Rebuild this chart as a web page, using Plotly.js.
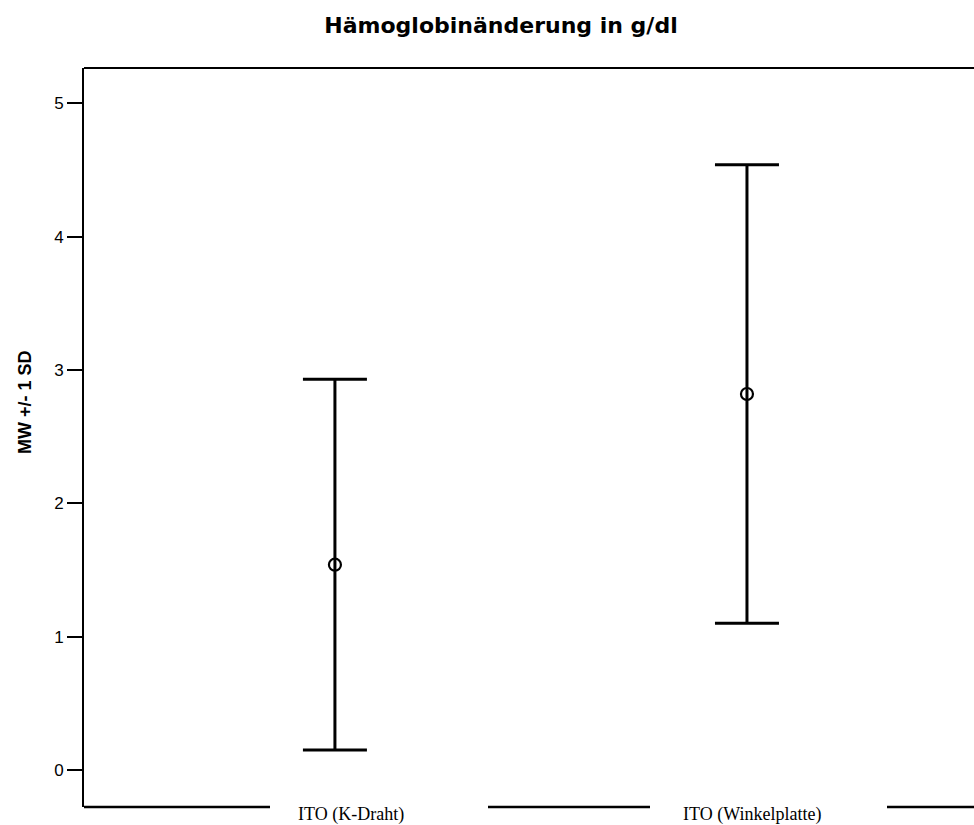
<!DOCTYPE html>
<html>
<head>
<meta charset="utf-8">
<script src="https://cdn.plot.ly/plotly-3.0.1.min.js"></script>
<style>
html,body{margin:0;padding:0;background:#fff;}
#chart{width:974px;height:825px;}
</style>
</head>
<body>
<div id="chart"></div>
<script>
const chartTitle = "Hämoglobinänderung in g/dl";
const yTitle = "MW +/- 1 SD";
const categories = ["ITO (K-Draht)", "ITO (Winkelplatte)"];
const means = [1.54, 2.82];
const sds = [1.39, 1.72];
const yTicks = [0, 1, 2, 3, 4, 5];

const trace = {
  type: "scatter",
  mode: "markers",
  x: categories,
  y: means,
  marker: {symbol: "circle-open", size: 12, color: "#000", line: {width: 2.2, color: "#000"}},
  error_y: {type: "data", array: sds, visible: true, color: "#000", thickness: 3, width: 32},
  hoverinfo: "skip",
  showlegend: false
};

function px(p){ return (p - 84) / 890; }

const lineSegs = [[84, 270], [488, 650], [887, 980]];
const shapes = lineSegs.map(s => ({
  type: "line", xref: "paper", yref: "paper", x0: px(s[0]), x1: px(s[1]), y0: 0, y1: 0,
  line: {color: "#000", width: 2.5}
}));
shapes.push({type: "line", xref: "paper", yref: "paper", x0: 0, x1: 1.02, y0: 1, y1: 1, line: {color: "#000", width: 2}});

const labelShift = [16, 5];
const annotations = categories.map((c, i) => ({
  x: c, xref: "x", y: 0, yref: "paper", yshift: -7,
  text: c, showarrow: false, xanchor: "center", yanchor: "middle", xshift: labelShift[i],
  font: {family: "Liberation Serif, Times New Roman, serif", size: 18, color: "#000"}
}));
annotations.push({
  text: "<b>" + yTitle + "</b>", xref: "paper", yref: "paper",
  x: (25 - 84) / 890, y: (807 - 402) / 739, xanchor: "center", yanchor: "middle",
  textangle: -90, showarrow: false,
  font: {family: "Liberation Sans, Arial, sans-serif", size: 18, color: "#000"}
});

const layout = {
  width: 974, height: 825,
  margin: {l: 84, r: 0, t: 68, b: 18, pad: 0},
  paper_bgcolor: "#fff", plot_bgcolor: "#fff",
  title: {
    text: "<b>" + chartTitle + "</b>", x: 501/974, xref: "container", xanchor: "center",
    y: 1 - 25/825, yref: "container", yanchor: "middle",
    font: {family: "DejaVu Sans, Arial, sans-serif", size: 22, color: "#000"}
  },
  xaxis: {
    type: "category", range: [-0.609, 1.551], showline: false, showgrid: false, zeroline: false,
    showticklabels: false, ticks: "", fixedrange: true
  },
  yaxis: {
    range: [-0.2775, 5.265], tickvals: yTicks, ticktext: yTicks.map(String),
    showline: true, linecolor: "#000", linewidth: 2, showgrid: false, zeroline: false,
    ticks: "outside", ticklen: 15, tickwidth: 2, tickcolor: "#000",
    tickfont: {family: "Liberation Sans, Arial, sans-serif", size: 17, color: "#000"},
    fixedrange: true
  },
  shapes: shapes,
  annotations: annotations
};

Plotly.newPlot("chart", [trace], layout, {displayModeBar: false, staticPlot: true});
</script>
</body>
</html>
